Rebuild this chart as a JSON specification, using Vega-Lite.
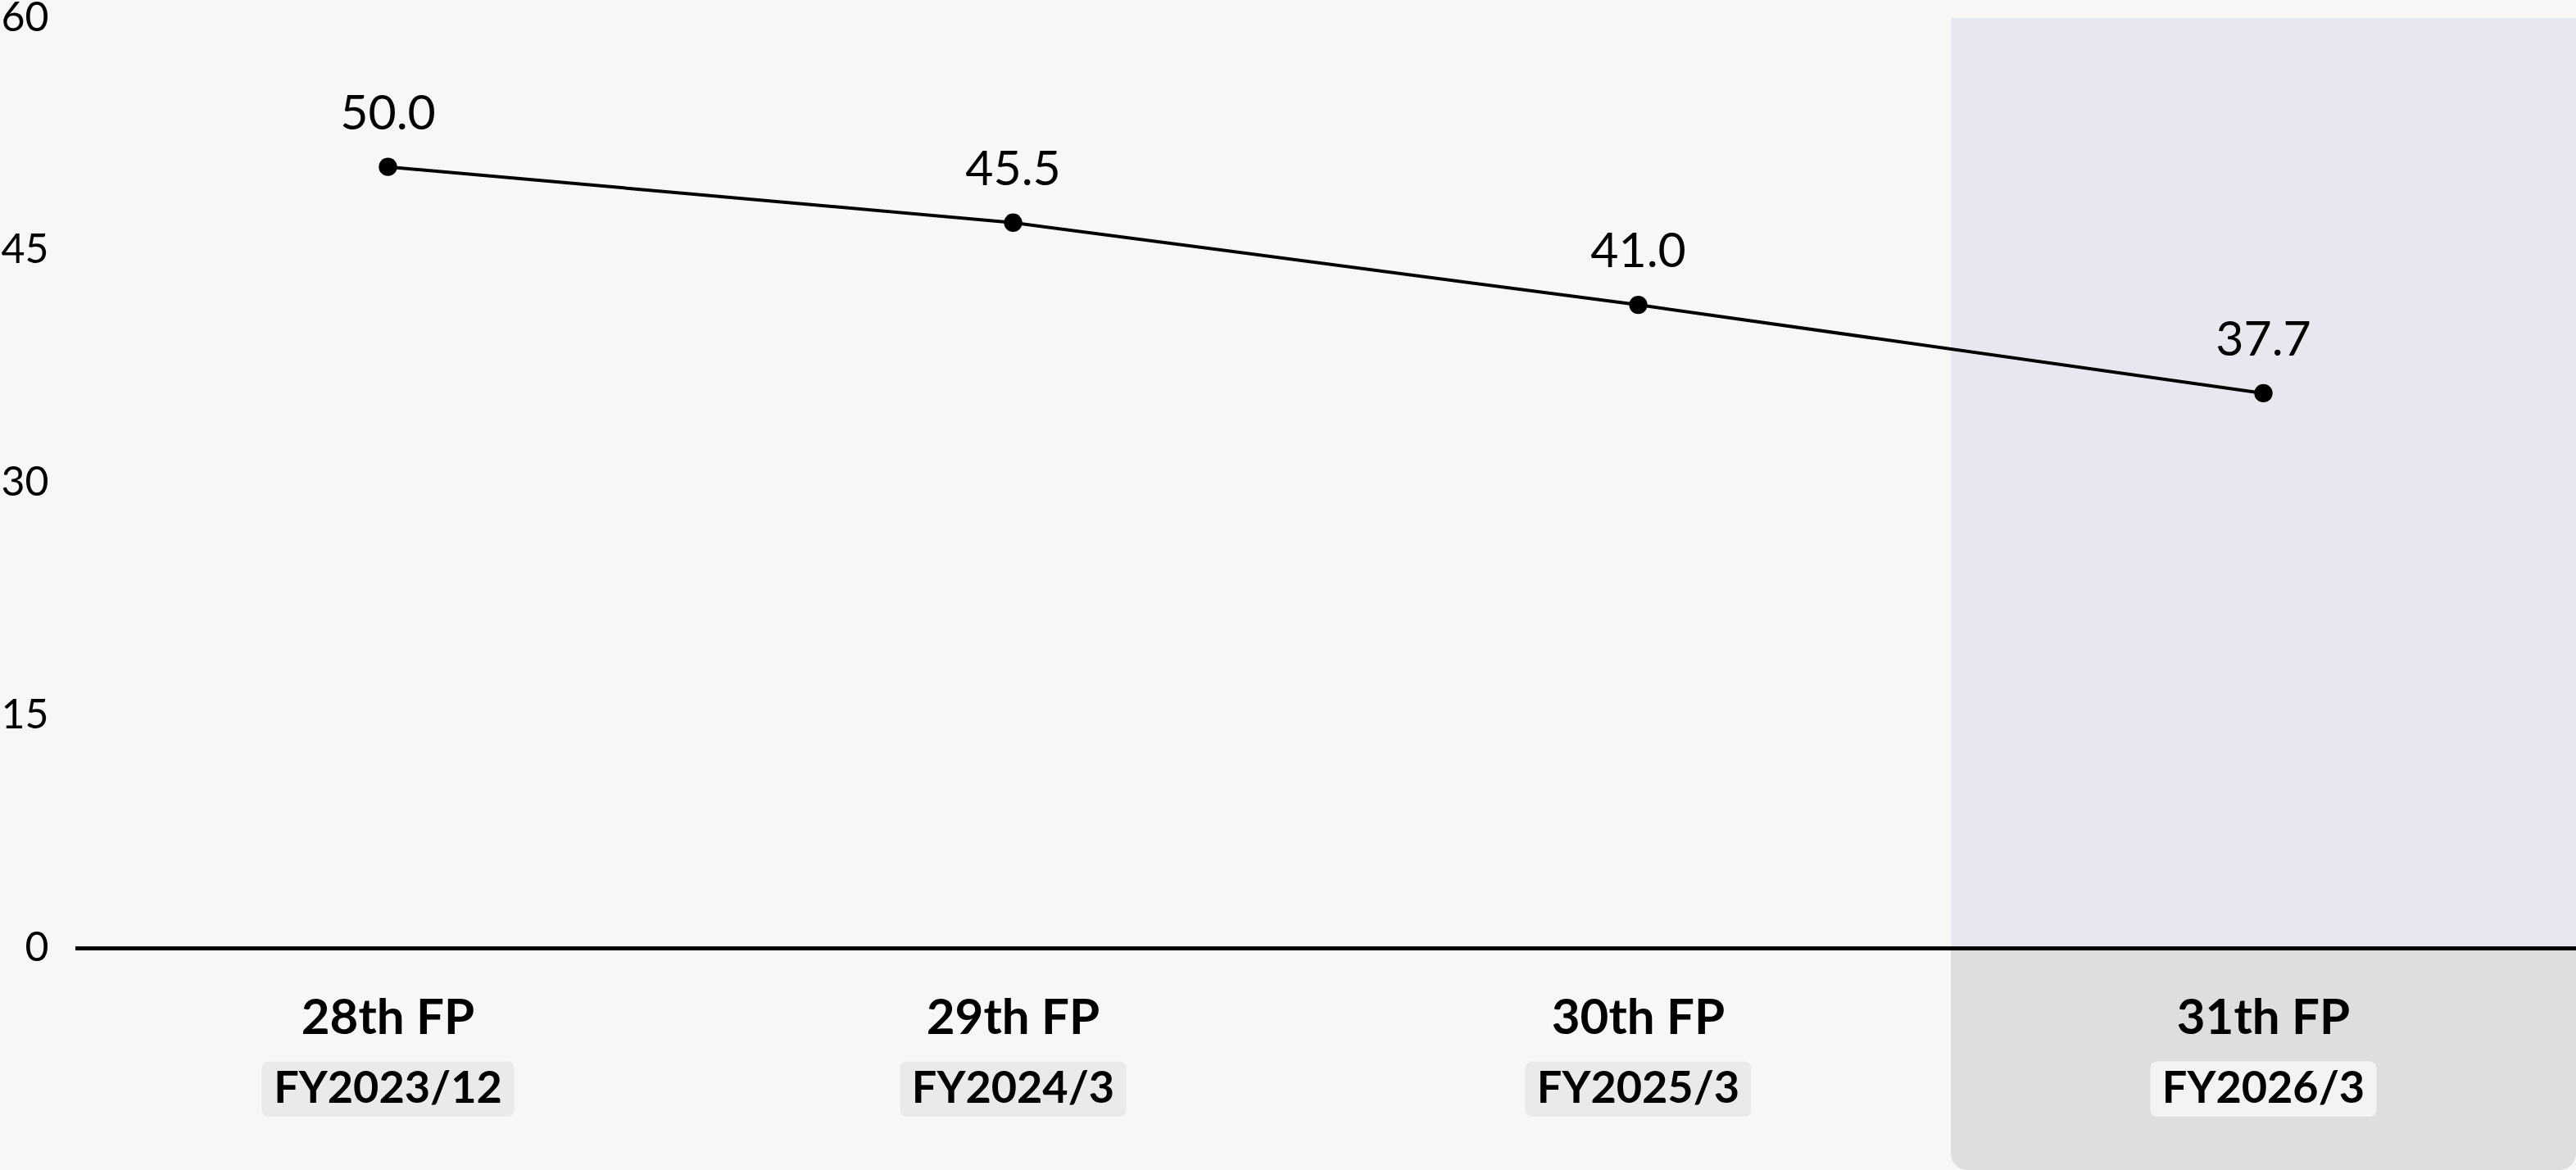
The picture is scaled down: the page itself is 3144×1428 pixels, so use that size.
{
  "$schema": "https://vega.github.io/schema/vega-lite/v6.json",
  "description": "Line chart of values by fiscal period, forecast period shaded.",
  "width": 3052,
  "height": 1406,
  "autosize": {"type": "none"},
  "padding": {"left": 92, "top": 22, "right": 0, "bottom": 0},
  "background": "#f8f6f7",
  "config": {
    "view": {"stroke": null},
    "font": "Lato"
  },
  "data": {
    "values": [
      {"period": "28th FP", "fy": "FY2023/12", "value": 50.4, "label": "50.0"},
      {"period": "29th FP", "fy": "FY2024/3", "value": 46.8, "label": "45.5"},
      {"period": "30th FP", "fy": "FY2025/3", "value": 41.5, "label": "41.0"},
      {"period": "31th FP", "fy": "FY2026/3", "value": 35.8, "label": "37.7"}
    ]
  },
  "encoding": {
    "x": {
      "field": "period",
      "type": "nominal",
      "sort": null,
      "axis": null,
      "scale": {
        "domain": ["28th FP", "29th FP", "30th FP", "31th FP"],
        "paddingInner": 0,
        "paddingOuter": 0
      }
    }
  },
  "layer": [
    {
      "transform": [{"filter": "datum.period == '31th FP'"}],
      "mark": {"type": "bar", "fill": "#e7e7f0"},
      "encoding": {
        "y": {
          "datum": 60,
          "type": "quantitative",
          "scale": {"domain": [-14.3, 60], "nice": false, "zero": false},
          "axis": {
            "values": [0, 7.5, 15, 22.5, 30, 37.5, 45, 52.5, 60],
            "labelExpr": "datum.value % 15 == 0 ? format(datum.value, 'd') : ''",
            "title": null,
            "domain": false,
            "ticks": false,
            "labelPadding": 33,
            "labelFontSize": 50,
            "labelColor": "#000000",
            "labelFont": "Lato",
            "labelBaseline": "middle",
            "gridColor": "#000000",
            "gridOpacity": 0.05,
            "gridWidth": 3,
            "zindex": 1
          }
        },
        "y2": {"datum": 0}
      }
    },
    {
      "transform": [{"filter": "datum.period == '31th FP'"}],
      "mark": {
        "type": "bar",
        "fill": "#dfdede",
        "cornerRadiusBottomLeft": 20,
        "cornerRadiusBottomRight": 20
      },
      "encoding": {
        "y": {"datum": 0, "type": "quantitative"},
        "y2": {"datum": -14.3}
      }
    },
    {
      "transform": [{"calculate": "length(datum.fy)", "as": "chars"}],
      "mark": {"type": "bar", "cornerRadius": 8},
      "encoding": {
        "y": {"datum": -7.3, "type": "quantitative"},
        "y2": {"datum": -10.85},
        "size": {
          "field": "chars",
          "type": "quantitative",
          "scale": {"domain": [8, 9], "range": [276, 308]},
          "legend": null
        },
        "color": {
          "condition": {"test": "datum.period == '31th FP'", "value": "#f3f3f3"},
          "value": "#ebe9ea"
        }
      }
    },
    {
      "mark": {"type": "rule", "color": "#000000", "strokeWidth": 4},
      "encoding": {"y": {"datum": 0, "type": "quantitative"}, "x": null}
    },
    {
      "mark": {"type": "line", "color": "#000000", "strokeWidth": 4},
      "encoding": {"y": {"field": "value", "type": "quantitative"}}
    },
    {
      "mark": {"type": "circle", "color": "#000000", "size": 500, "opacity": 1},
      "encoding": {"y": {"field": "value", "type": "quantitative"}}
    },
    {
      "mark": {
        "type": "text",
        "fontSize": 59,
        "baseline": "middle",
        "dy": -64,
        "color": "#000000"
      },
      "encoding": {
        "y": {"field": "value", "type": "quantitative"},
        "text": {"field": "label"}
      }
    },
    {
      "mark": {
        "type": "text",
        "fontSize": 60,
        "fontWeight": "bold",
        "baseline": "middle",
        "color": "#000000"
      },
      "encoding": {
        "y": {"datum": -4.6, "type": "quantitative"},
        "text": {"field": "period"}
      }
    },
    {
      "mark": {
        "type": "text",
        "fontSize": 54,
        "fontWeight": "bold",
        "baseline": "middle",
        "color": "#000000"
      },
      "encoding": {
        "y": {"datum": -9.1, "type": "quantitative"},
        "text": {"field": "fy"}
      }
    }
  ]
}
